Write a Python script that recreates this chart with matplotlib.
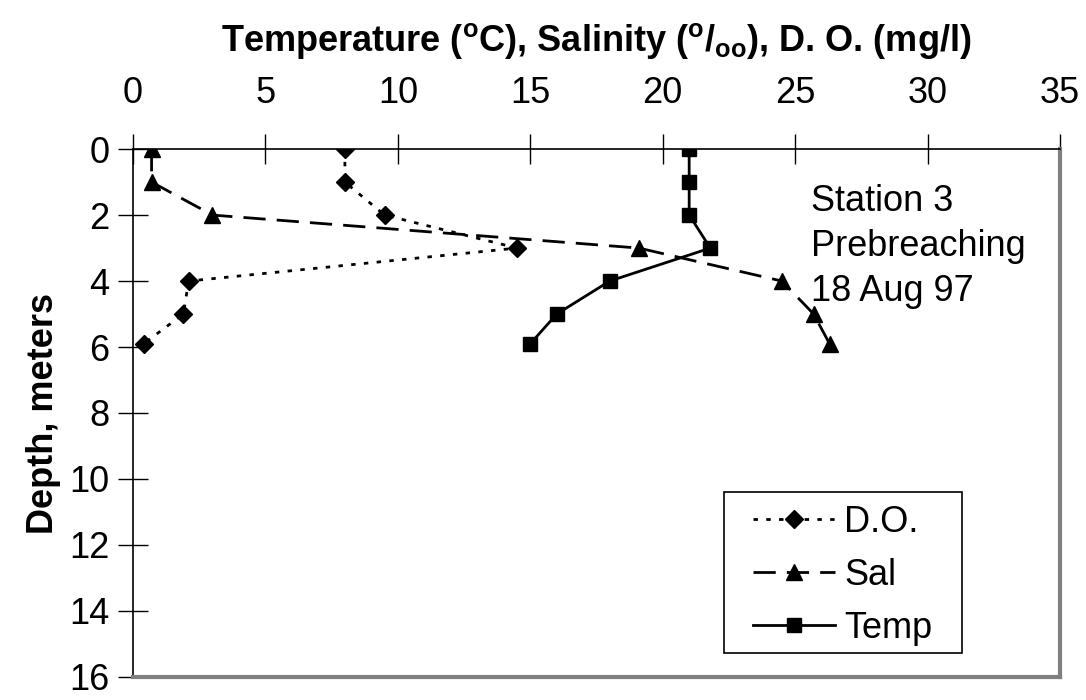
import matplotlib
matplotlib.use('Agg')
import matplotlib.pyplot as plt
from matplotlib.patches import Rectangle

plt.rcParams['font.family'] = ['Liberation Sans', 'DejaVu Sans']
plt.rcParams['mathtext.fontset'] = 'custom'
plt.rcParams['mathtext.rm'] = 'Liberation Sans:bold'
plt.rcParams['mathtext.it'] = 'Liberation Sans:bold'

# depth profile, station 3
depth = [0, 1, 2, 3, 4, 5, 5.9]
do_vals = [8.0, 8.0, 9.5, 14.5, 2.1, 1.9, 0.4]
sal_vals = [0.7, 0.7, 3.0, 19.1, 24.5, 25.7, 26.3]
temp_vals = [21.0, 21.0, 21.0, 21.8, 18.0, 16.0, 15.0]

x_ticks = [0, 5, 10, 15, 20, 25, 30, 35]
y_ticks = [0, 2, 4, 6, 8, 10, 12, 14, 16]

FS = 26
W, H = 1086, 700

fig = plt.figure(figsize=(W / 100, H / 100), dpi=100)
ax = fig.add_axes([0.1225, 0.033, 0.8535, 0.754])

ax.plot(do_vals, depth, color='black', lw=2, ls=(0, (1.6, 3)),
        marker='D', ms=9, label='D.O.')
ax.plot(sal_vals, depth, color='black', lw=2, ls=(0, (8, 4)),
        marker='^', ms=11, label='Sal')
ax.plot(temp_vals, depth, color='black', lw=2, ls='-',
        marker='s', ms=10, label='Temp')

ax.set_xlim(0, 35)
ax.set_ylim(16, 0)
ax.set_xticks(x_ticks)
ax.set_yticks(y_ticks)
ax.xaxis.tick_top()
ax.xaxis.set_label_position('top')
ax.tick_params(axis='x', direction='inout', length=22, width=1, labelsize=FS, pad=16.5)
ax.tick_params(axis='y', direction='inout', length=22, width=1, labelsize=FS, pad=6)

for side in ['top', 'left']:
    ax.spines[side].set_color('black')
    ax.spines[side].set_linewidth(1.2)
for side in ['bottom', 'right']:
    ax.spines[side].set_color('#808080')
    ax.spines[side].set_linewidth(3)

ax.set_xlabel(r'Temperature ($^{\rm o}$C), Salinity ($^{\rm o}$/$_{\rm oo}$), D. O. (mg/l)',
              fontsize=FS, fontweight='bold', labelpad=18)
ax.set_ylabel('Depth, meters', fontsize=FS, fontweight='bold', labelpad=6)

ax.text(25.6, 2.95, 'Station 3\nPrebreaching\n18 Aug 97', fontsize=FS,
        va='center', ha='left', linespacing=1.37)

# legend without its own frame; box drawn separately (wider side padding)
leg = ax.legend(loc='upper left', bbox_to_anchor=(753 / W, 1 - 505 / H),
                bbox_transform=fig.transFigure, fontsize=FS, frameon=False,
                numpoints=1, handlelength=2.27, labelspacing=0.5,
                borderpad=0, borderaxespad=0, handletextpad=0.25)
leg.set_zorder(5)
ax.add_patch(Rectangle((724 / W, 1 - 653 / H), 238 / W, 161 / H,
                       transform=fig.transFigure, facecolor='white',
                       edgecolor='black', lw=1.2, zorder=4, clip_on=False))

fig.savefig('out.png', dpi=100)
